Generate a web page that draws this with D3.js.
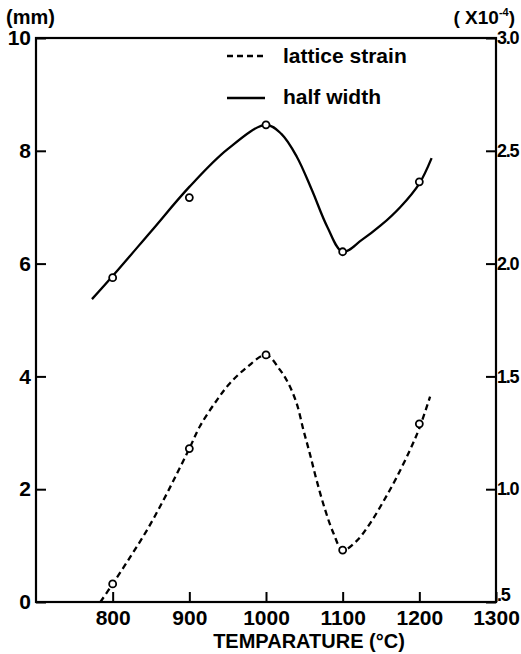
<!DOCTYPE html>
<html>
<head>
<meta charset="utf-8">
<script src="https://cdn.jsdelivr.net/npm/d3@7"></script>
<style>
  body { margin: 0; background: #fff; }
  text { font-family: "Liberation Sans", Arial, sans-serif; font-weight: bold; fill: #000; }
</style>
</head>
<body>
<div id="chart"></div>
<script>
// measured points (circles)
const temps = [800, 900, 1000, 1100, 1200];
const halfWidth = [5.75, 7.17, 8.46, 6.21, 7.45];          // mm, left axis
const latticeStrain = [0.58, 1.18, 1.595, 0.73, 1.29];     // x10^-4, right axis

// hand drawn curves
const halfWidthCurveT = [773, 800, 850, 900, 950, 1000, 1020, 1040, 1060, 1080, 1100, 1125, 1150, 1175, 1200, 1216];
const halfWidthCurveV = [5.37, 5.78, 6.57, 7.36, 8.03, 8.46, 8.3, 7.9, 7.3, 6.65, 6.21, 6.42, 6.68, 7.0, 7.42, 7.87];
const strainCurveT = [784, 800, 823, 845, 866, 884, 900, 914, 936, 953, 975, 1000, 1018, 1029, 1040, 1049, 1057, 1066, 1077, 1088, 1100, 1118, 1136, 1153, 1170, 1188, 1200, 1214];
const strainCurveV = [0.5, 0.58, 0.7, 0.82, 0.95, 1.07, 1.18, 1.28, 1.395, 1.47, 1.54, 1.595, 1.53, 1.47, 1.38, 1.26, 1.16, 1.04, 0.91, 0.805, 0.73, 0.77, 0.85, 0.945, 1.05, 1.175, 1.27, 1.41];

const xTicks = [800, 900, 1000, 1100, 1200, 1300];
const leftTicks = [0, 2, 4, 6, 8, 10];
const rightTicks = [0.5, 1.0, 1.5, 2.0, 2.5, 3.0];

const width = 521;
const height = 654;
const margin = { top: 38, right: 25, bottom: 52, left: 36 };

const svg = d3.select("#chart")
  .append("svg")
  .attr("width", width)
  .attr("height", height)
  .attr("viewBox", [0, 0, width, height]);

const x = d3.scaleLinear()
  .domain([700, 1300])
  .range([margin.left, width - margin.right]);

const yL = d3.scaleLinear()
  .domain([0, 10])
  .range([height - margin.bottom, margin.top]);

const yR = d3.scaleLinear()
  .domain([0.5, 3.0])
  .range([height - margin.bottom, margin.top]);

// frame
svg.append("rect")
  .attr("x", margin.left)
  .attr("y", margin.top)
  .attr("width", width - margin.right - margin.left)
  .attr("height", height - margin.bottom - margin.top)
  .attr("fill", "none")
  .attr("stroke", "#000")
  .attr("stroke-width", 2.2);

const styleAxis = g => {
  g.select(".domain").remove();
  g.selectAll(".tick line").attr("stroke-width", 2);
  g.selectAll(".tick text").attr("font-size", 21).attr("fill", "#000");
};

svg.append("g")
  .attr("transform", `translate(0,${height - margin.bottom})`)
  .call(d3.axisBottom(x).tickValues(xTicks).tickSize(-10).tickPadding(8).tickFormat(d3.format("d")))
  .call(styleAxis)
  .call(g => g.selectAll(".tick text").attr("dy", "0.72em"));

svg.append("g")
  .attr("transform", `translate(${margin.left},0)`)
  .call(d3.axisLeft(yL).tickValues(leftTicks).tickSize(-10).tickPadding(5))
  .call(styleAxis);

svg.append("g")
  .attr("transform", `translate(${width - margin.right},0)`)
  .call(d3.axisRight(yR).tickValues(rightTicks).tickSize(-10).tickPadding(1)
    .tickFormat(d => d === 0.5 ? ".5" : d3.format(".1f")(d)))
  .call(styleAxis)
  .call(g => g.selectAll(".tick text").attr("font-size", 18).attr("letter-spacing", -1.2))
  .call(g => g.selectAll(".tick text").filter(d => d === 0.5).attr("dy", "-0.1em"));

// unit labels
svg.append("text")
  .attr("x", 6)
  .attr("y", 24)
  .attr("font-size", 20)
  .text("(mm)");

const unitR = svg.append("text")
  .attr("x", 515)
  .attr("y", 24)
  .attr("text-anchor", "end")
  .attr("font-size", 19);
unitR.append("tspan").text("( X10");
unitR.append("tspan").attr("font-size", 11).attr("dy", -8).text("-4");
unitR.append("tspan").attr("dy", 8).text(")");

svg.append("text")
  .attr("x", 309)
  .attr("y", 648)
  .attr("text-anchor", "middle")
  .attr("font-size", 20)
  .text("TEMPARATURE (°C)");

// curves
const lineHalf = d3.line()
  .x(d => x(d[0]))
  .y(d => yL(d[1]))
  .curve(d3.curveCatmullRom);

const lineStrain = d3.line()
  .x(d => x(d[0]))
  .y(d => yR(d[1]))
  .curve(d3.curveCatmullRom);

svg.append("path")
  .datum(d3.zip(halfWidthCurveT, halfWidthCurveV))
  .attr("fill", "none")
  .attr("stroke", "#000")
  .attr("stroke-width", 2.3)
  .attr("d", lineHalf);

svg.append("path")
  .datum(d3.zip(strainCurveT, strainCurveV))
  .attr("fill", "none")
  .attr("stroke", "#000")
  .attr("stroke-width", 2.3)
  .attr("stroke-dasharray", "6,4")
  .attr("d", lineStrain);

// measured circles
svg.selectAll(".pt-half")
  .data(d3.zip(temps, halfWidth))
  .join("circle")
  .attr("class", "pt-half")
  .attr("cx", d => x(d[0]))
  .attr("cy", d => yL(d[1]))
  .attr("r", 3.5)
  .attr("fill", "#fff")
  .attr("stroke", "#000")
  .attr("stroke-width", 1.8);

svg.selectAll(".pt-strain")
  .data(d3.zip(temps, latticeStrain))
  .join("circle")
  .attr("class", "pt-strain")
  .attr("cx", d => x(d[0]))
  .attr("cy", d => yR(d[1]))
  .attr("r", 3.5)
  .attr("fill", "#fff")
  .attr("stroke", "#000")
  .attr("stroke-width", 1.8);

// legend
svg.append("line")
  .attr("x1", 227).attr("x2", 265)
  .attr("y1", 56).attr("y2", 56)
  .attr("stroke", "#000")
  .attr("stroke-width", 2.3)
  .attr("stroke-dasharray", "6,4");

svg.append("text")
  .attr("x", 283)
  .attr("y", 63)
  .attr("font-size", 21)
  .text("lattice strain");

svg.append("line")
  .attr("x1", 227).attr("x2", 265)
  .attr("y1", 98).attr("y2", 98)
  .attr("stroke", "#000")
  .attr("stroke-width", 2.3);

svg.append("text")
  .attr("x", 283)
  .attr("y", 104)
  .attr("font-size", 21)
  .text("half width");
</script>
</body>
</html>
